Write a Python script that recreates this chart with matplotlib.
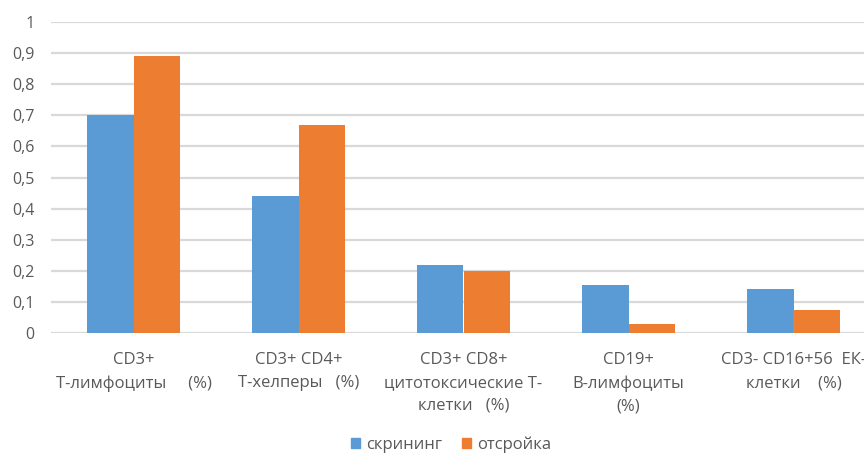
import matplotlib
matplotlib.use("Agg")
import matplotlib.pyplot as plt
from matplotlib.patches import Patch
from matplotlib.ticker import FuncFormatter

categories = [
    "CD3+\nТ-лимфоциты     (%)",
    "CD3+ CD4+\nТ-хелперы   (%)",
    "CD3+ CD8+\nцитотоксические Т-\nклетки   (%)",
    "CD19+\nВ-лимфоциты\n(%)",
    "CD3- CD16+56  ЕК-\nклетки    (%)",
]
series_names = ["скрининг", "отсройка"]
screening = [0.70, 0.44, 0.22, 0.155, 0.14]
tuning = [0.89, 0.67, 0.20, 0.03, 0.075]
y_ticks = [0, 0.1, 0.2, 0.3, 0.4, 0.5, 0.6, 0.7, 0.8, 0.9, 1.0]

blue = "#5B9BD5"
orange = "#ED7D31"
text_c = "#595959"

plt.rcParams["font.family"] = ["Open Sans", "DejaVu Sans"]

W, H = 864, 454
fig = plt.figure(figsize=(W / 100, H / 100), dpi=100)
left, right = 51 / W, 876 / W
bottom, top = (H - 333) / H, (H - 22) / H
ax = fig.add_axes([left, bottom, right - left, top - bottom])

x = list(range(len(categories)))
bw = 0.28
ax.bar([i - bw / 2 for i in x], screening, width=bw, color=blue, zorder=3)
ax.bar([i + bw / 2 for i in x], tuning, width=bw, color=orange, zorder=3)

ax.set_xlim(-0.5, len(categories) - 0.5)
ax.set_ylim(0, 1)
ax.set_yticks(y_ticks)
ax.yaxis.set_major_formatter(FuncFormatter(lambda v, p: ("%g" % round(v, 1)).replace(".", ",")))
ax.yaxis.grid(True, color="#D9D9D9", linewidth=1.6, zorder=0)
ax.set_axisbelow(True)
for s in ax.spines.values():
    s.set_visible(False)
ax.tick_params(axis="y", length=0, pad=12, labelsize=11.5, labelcolor=text_c)
ax.tick_params(axis="x", length=0, pad=14, labelsize=12, labelcolor=text_c)
ax.set_xticks(x)
ax.set_xticklabels(categories, linespacing=1.55, ha="center", va="top")
for t in ax.get_yticklabels():
    t.set_clip_on(False)

handles = [Patch(color=blue), Patch(color=orange)]
fig.legend(handles, series_names, loc="center", bbox_to_anchor=(451 / W, 1 - 445 / H),
           ncol=2, frameon=False, handlelength=0.55, handleheight=0.55, handletextpad=0.35,
           columnspacing=1.2, fontsize=12, labelcolor=text_c, borderaxespad=0)

fig.savefig("out.png", dpi=100)
